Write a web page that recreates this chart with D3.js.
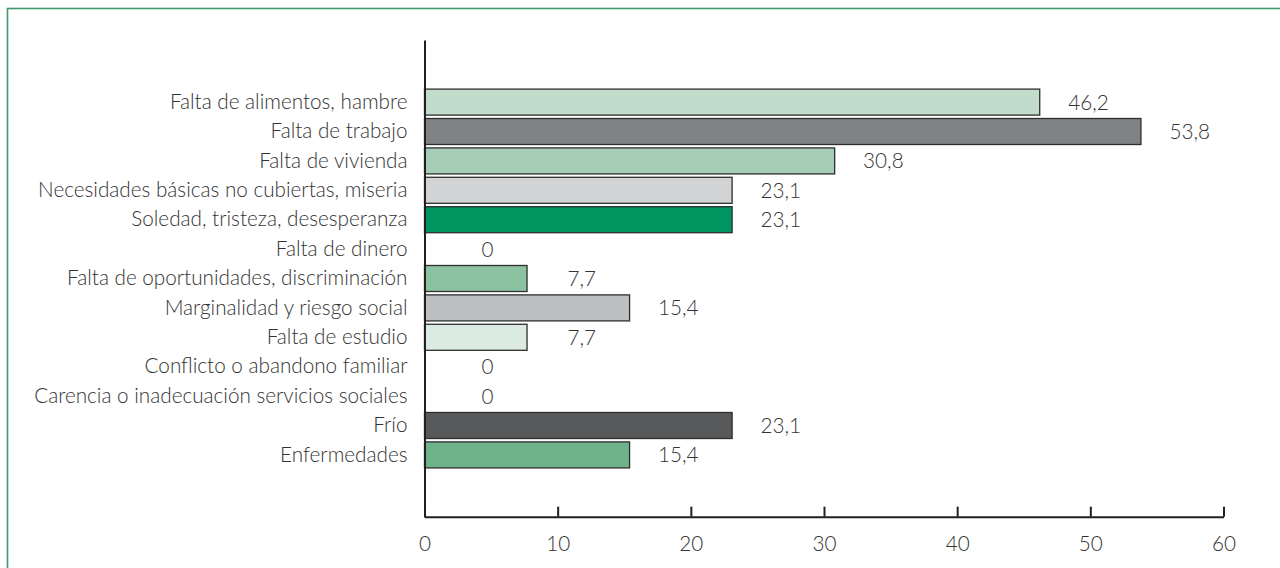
<!DOCTYPE html>
<html>
<head>
<meta charset="utf-8">
<script src="https://cdn.jsdelivr.net/npm/d3@7"></script>
<style>
  html, body { margin: 0; padding: 0; background: #fff; }
  svg { display: block; }
  text { font-family: Lato, "Open Sans", sans-serif; font-weight: 300; fill: #333333; }
</style>
</head>
<body>
<svg id="chart" width="1280" height="568"></svg>
<script>
const categories = [
  "Falta de alimentos, hambre",
  "Falta de trabajo",
  "Falta de vivienda",
  "Necesidades básicas no cubiertas, miseria",
  "Soledad, tristeza, desesperanza",
  "Falta de dinero",
  "Falta de oportunidades, discriminación",
  "Marginalidad y riesgo social",
  "Falta de estudio",
  "Conflicto o abandono familiar",
  "Carencia o inadecuación servicios sociales",
  "Frío",
  "Enfermedades"
];
const values = [46.2, 53.8, 30.8, 23.1, 23.1, 0, 7.7, 15.4, 7.7, 0, 0, 23.1, 15.4];
const valueLabels = ["46,2", "53,8", "30,8", "23,1", "23,1", "0", "7,7", "15,4", "7,7", "0", "0", "23,1", "15,4"];
const barColors = ["#c1dccb", "#808184", "#a6cdb5", "#d1d3d4", "#009460", "#ffffff", "#8bc2a2", "#bcbec0", "#dcebe1", "#ffffff", "#ffffff", "#58595b", "#6fb38d"];
const xTicks = [0, 10, 20, 30, 40, 50, 60];

const svg = d3.select("#chart");

// frame
svg.append("rect")
  .attr("x", 7.5).attr("y", 8.5)
  .attr("width", 1300).attr("height", 600)
  .attr("fill", "none")
  .attr("stroke", "#3a9a6e")
  .attr("stroke-width", 1.6);

const x = d3.scaleLinear().domain([0, 60]).range([424.5, 1223.5]);
const y = d3.scaleBand().domain(categories).range([40, 517])
  .paddingInner(0.115).paddingOuter(1.67);

const fs = 20.7;

// bars
svg.append("g").selectAll("rect")
  .data(values.map((v, i) => ({ v, c: categories[i], col: barColors[i] })).filter(d => d.v > 0))
  .join("rect")
  .attr("x", x(0))
  .attr("y", d => y(d.c))
  .attr("width", d => x(d.v) - x(0))
  .attr("height", y.bandwidth())
  .attr("fill", d => d.col)
  .attr("stroke", "#2e2e2e")
  .attr("stroke-width", 1.3);

// value labels
svg.append("g").selectAll("text")
  .data(values.map((v, i) => ({ v, c: categories[i], l: valueLabels[i] })))
  .join("text")
  .attr("x", d => x(d.v) + 69)
  .attr("y", d => y(d.c) + y.bandwidth() / 2)
  .attr("dy", "0.36em")
  .attr("text-anchor", "end")
  .style("font-size", fs + "px")
  .text(d => d.l);

// y axis
const yAxis = svg.append("g")
  .attr("transform", `translate(${x(0)},0)`)
  .call(d3.axisLeft(y).tickSize(0).tickSizeOuter(0).tickPadding(17));
yAxis.select(".domain").attr("stroke", "#231f20").attr("stroke-width", 2);
yAxis.selectAll("text")
  .style("font-size", fs + "px")
  .style("font-family", "Lato, sans-serif")
  .attr("fill", "#333333");

// x axis
const xAxis = svg.append("g")
  .attr("transform", "translate(0,516.7)")
  .call(d3.axisBottom(x).tickValues(xTicks).tickSizeInner(-10).tickSizeOuter(0).tickPadding(20).tickFormat(d3.format("d")));
xAxis.select(".domain").attr("stroke", "#231f20").attr("stroke-width", 2);
xAxis.selectAll(".tick line").attr("stroke", "#231f20").attr("stroke-width", 2);
xAxis.selectAll("text")
  .style("font-size", fs + "px")
  .style("font-family", "Lato, sans-serif")
  .attr("fill", "#333333");
</script>
</body>
</html>
